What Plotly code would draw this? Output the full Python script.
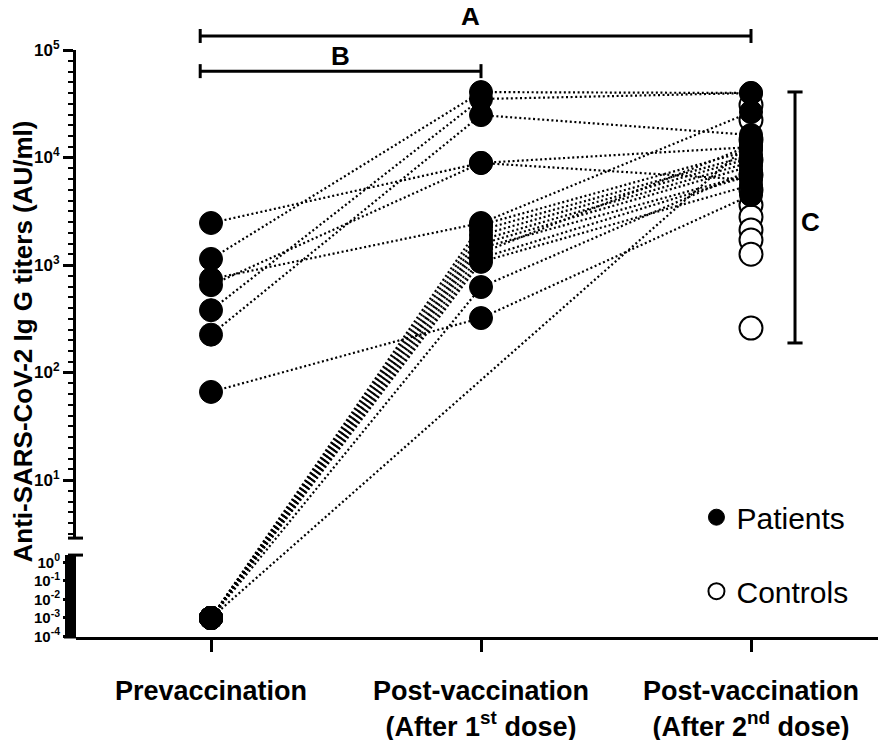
import numpy as np
import plotly.graph_objects as go

# ---------------- data ----------------
categories = [
    "Prevaccination",
    "Post-vaccination<br>(After 1<sup>st</sup> dose)",
    "Post-vaccination<br>(After 2<sup>nd</sup> dose)",
]

# Patients (AU/ml). 0.001 = undetectable (plotted on lower broken segment); None = not measured
pre_vac = [2460, 1140, 740, 650, 380, 225, 66,
           0.001, 0.001, 0.001, 0.001, 0.001, 0.001, 0.001, 0.001, 0.001, 0.001, 0.001]
post_dose1 = [8900, 40600, 2460, 8900, 35000, 24800, 321,
              2360, 2120, 1900, 1710, 1570, 1440, 1290, 1160, 1070, 624, None]
post_dose2 = [12500, 39800, 26500, 6180, 39800, 16200, 4480,
              11750, 10550, 9900, 9080, 8330, 7000, 13000, 6880, 5550, 7650, 13900]

# Controls after 2nd dose (AU/ml)
controls_dose2 = [30800, 22300, 14600, 9480, 6880, 4990, 3610, 2800, 2120, 1710, 1260, 259]

top_ticks = [10, 100, 1000, 10000, 100000]
top_ticktext = ["10<sup>1</sup>", "10<sup>2</sup>", "10<sup>3</sup>", "10<sup>4</sup>", "10<sup>5</sup>"]
low_ticks = [1, 0.1, 0.01, 0.001, 0.0001]
low_ticktext = ["10<sup>0</sup>", "10<sup>-1</sup>", "10<sup>-2</sup>", "10<sup>-3</sup>", "10<sup>-4</sup>"]

# ---------------- broken axis geometry (in log10 units of the upper segment) ----------------
U_LO, U_HI = -0.46, 5.0          # full plot height
UP_LO = 0.46                     # bottom end of upper segment
LOW_TOP = 0.302                  # top end of lower segment
B0, B1 = 0.233, 0.172            # lower segment: u = B0 + B1*log10(v)


def to_plot(v):
    if v is None:
        return None
    if v >= 10 ** UP_LO:
        return v
    return 10 ** (B0 + B1 * np.log10(v))


span = U_HI - U_LO
d_up = (UP_LO - U_LO) / span
d_low = (LOW_TOP - U_LO) / span
low_range = [(U_LO - B0) / B1, (LOW_TOP - B0) / B1]

PW, PH = 810, 587   # plot area in px
FONT = "Liberation Sans, Arial, sans-serif"
fig = go.Figure()

# patient connecting lines
for a, b, c in zip(pre_vac, post_dose1, post_dose2):
    fig.add_trace(go.Scatter(
        x=[0, 1, 2], y=[to_plot(a), to_plot(b), to_plot(c)],
        mode="lines", connectgaps=True,
        line=dict(color="black", width=2.2, dash="2px,2.6px"),
        showlegend=False, hoverinfo="skip"))

# controls
fig.add_trace(go.Scatter(
    x=[2] * len(controls_dose2), y=[to_plot(v) for v in controls_dose2],
    mode="markers", name="Controls", legendgroup="c", legendrank=2,
    marker=dict(symbol="circle", size=23, color="white", line=dict(color="black", width=2))))

# patient markers
px, py = [], []
for i, series in enumerate([pre_vac, post_dose1, post_dose2]):
    for v in series:
        if v is not None:
            px.append(i)
            py.append(to_plot(v))
fig.add_trace(go.Scatter(
    x=px, y=py, mode="markers", name="Patients", legendgroup="p", legendrank=1,
    marker=dict(symbol="circle", size=23, color="black", line=dict(color="black", width=1))))

# dummy traces so the decorative axes exist
fig.add_trace(go.Scatter(x=[None], y=[None], yaxis="y2", showlegend=False, hoverinfo="skip"))
fig.add_trace(go.Scatter(x=[None], y=[None], yaxis="y3", showlegend=False, hoverinfo="skip"))

tickfont = dict(family=FONT, size=17, color="black", weight="bold")

minor_up = [10 ** (k / 10) for k in range(5, 51) if k % 10 != 0]
minor_low = [10 ** (k / 20) for k in range(-81, 8) if k % 20 != 0]

fig.update_layout(
    width=878, height=732,
    margin=dict(l=68, r=0, t=42, b=103, pad=0),
    paper_bgcolor="white", plot_bgcolor="rgba(0,0,0,0)",
    font=dict(family=FONT, color="black"),
    xaxis=dict(domain=[0, 1], range=[-0.5, 2.5], anchor="y",
               tickmode="array", tickvals=[0, 1, 2], ticktext=categories,
               showline=True, linewidth=3, linecolor="black",
               ticks="outside", ticklen=12, tickwidth=2.5, tickcolor="black",
               ticklabelstandoff=16,
               tickfont=dict(family=FONT, size=27, color="black", weight="bold"),
               showgrid=False, zeroline=False, fixedrange=True, automargin=False),
    yaxis=dict(type="log", range=[U_LO, U_HI], domain=[0, 1], anchor="x",
               visible=False, showgrid=False, zeroline=False),
    yaxis2=dict(type="log", range=[UP_LO, U_HI], domain=[d_up, 1], anchor="x",
                showline=True, linewidth=3, linecolor="black",
                tickmode="array", tickvals=top_ticks, ticktext=top_ticktext,
                ticks="outside", ticklen=10, tickwidth=2.5, tickcolor="black",
                tickfont=tickfont, showgrid=False, zeroline=False, automargin=False,
                minor=dict(tickmode="array", tickvals=minor_up, ticks="outside",
                           ticklen=5, tickwidth=2, tickcolor="black", showgrid=False)),
    yaxis3=dict(type="log", range=low_range, domain=[0, d_low], anchor="x",
                showline=True, linewidth=3, linecolor="black",
                tickmode="array", tickvals=low_ticks, ticktext=low_ticktext,
                ticks="outside", ticklen=10, tickwidth=2.5, tickcolor="black",
                tickfont=dict(family=FONT, size=15, color="black", weight="bold"),
                showgrid=False, zeroline=False, automargin=False,
                minor=dict(tickmode="array", tickvals=minor_low, ticks="outside",
                           ticklen=8, tickwidth=2, tickcolor="black", showgrid=False)),
    legend=dict(x=0.766, y=0.2484, xanchor="left", yanchor="top",
                traceorder="grouped", tracegroupgap=32,
                font=dict(family=FONT, size=30, color="black"),
                bgcolor="rgba(0,0,0,0)", itemsizing="trace"),
    showlegend=True,
)

# break marks on y axis
for yy in [d_up, d_low]:
    fig.add_shape(type="line", xref="paper", yref="paper",
                  x0=-8 / PW, x1=7 / PW, y0=yy, y1=yy,
                  line=dict(color="black", width=3))

# x axis extends left under the thick lower segment
fig.add_shape(type="line", xref="paper", yref="paper", x0=-12 / PW, x1=0, y0=0, y1=0,
              line=dict(color="black", width=3))

# significance brackets
def hbracket(x0, x1, y, label, lx, ly):
    cap = 7 / PH
    fig.add_shape(type="line", xref="x", yref="paper", x0=x0, x1=x1, y0=y, y1=y,
                  line=dict(color="black", width=3))
    for xx in (x0, x1):
        fig.add_shape(type="line", xref="x", yref="paper", x0=xx, x1=xx,
                      y0=y - cap, y1=y + cap, line=dict(color="black", width=3))
    fig.add_annotation(x=lx, y=ly, xref="x", yref="paper", text="<b>%s</b>" % label,
                       showarrow=False, xanchor="center", yanchor="middle",
                       height=22, valign="middle", borderpad=0,
                       font=dict(family=FONT, size=26, color="black"))

hbracket(-0.04, 2.0, 1.0239, "A", 0.96, 1.0580)
hbracket(-0.04, 1.0, 0.964, "B", 0.481, 0.9898)

# vertical bracket C
cx = 2.163
capx = 0.028
yc0, yc1 = 0.5009, 0.9285
fig.add_shape(type="line", xref="x", yref="paper", x0=cx, x1=cx, y0=yc0, y1=yc1,
              line=dict(color="black", width=3))
for yy in (yc0, yc1):
    fig.add_shape(type="line", xref="x", yref="paper", x0=cx - capx, x1=cx + capx,
                  y0=yy, y1=yy, line=dict(color="black", width=3))
fig.add_annotation(x=2.222, y=0.707, xref="x", yref="paper", text="<b>C</b>",
                   showarrow=False, xanchor="center", yanchor="middle",
                   font=dict(family=FONT, size=26, color="black"))

# y-axis title
fig.add_annotation(x=-0.066, y=0.5026, xref="paper", yref="paper",
                   text="<b>Anti-SARS-CoV-2 Ig G titers (AU/ml)</b>", textangle=-90,
                   showarrow=False, xanchor="center", yanchor="middle",
                   font=dict(family=FONT, size=26, color="black"))

fig.write_html("out.html")
